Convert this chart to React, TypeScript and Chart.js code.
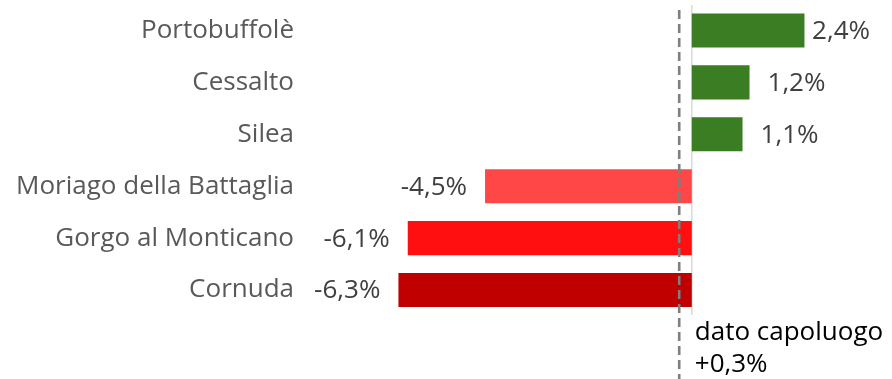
import React, { useEffect, useRef } from "react";
import { Chart, registerables } from "chart.js";

Chart.register(...registerables);

const categories = [
  "Portobuffolè",
  "Cessalto",
  "Silea",
  "Moriago della Battaglia",
  "Gorgo al Monticano",
  "Cornuda",
];
const values = [2.42, 1.24, 1.09, -4.44, -6.1, -6.3];
const valueLabels = ["2,4%", "1,2%", "1,1%", "-4,5%", "-6,1%", "-6,3%"];
const barColors = ["#3A7D22", "#3A7D22", "#3A7D22", "#FF4747", "#FF0F0F", "#C00000"];
const referenceValue = -0.27;
const referenceText = ["dato capoluogo", "+0,3%"];

const FONT = "'Open Sans', sans-serif";

const overlayPlugin = {
  id: "overlay",
  beforeDatasetsDraw(chart: any) {
    const { ctx, scales } = chart;
    const x0 = scales.x.getPixelForValue(0);
    ctx.save();
    ctx.strokeStyle = "#D9D9D9";
    ctx.lineWidth = 1.5;
    ctx.beginPath();
    ctx.moveTo(x0, 5);
    ctx.lineTo(x0, 315);
    ctx.stroke();
    ctx.restore();
  },
  afterDatasetsDraw(chart: any) {
    const { ctx, scales } = chart;
    const meta = chart.getDatasetMeta(0);
    ctx.save();
    ctx.font = `26px ${FONT}`;
    ctx.fillStyle = "#404040";
    ctx.textBaseline = "middle";
    meta.data.forEach((bar: any, i: number) => {
      const txt = valueLabels[i];
      const w = ctx.measureText(txt).width;
      if (values[i] >= 0) {
        let x = bar.x + 18;
        if (x + w > 870) x = Math.max(bar.x + 2, 870 - w);
        ctx.textAlign = "left";
        ctx.fillText(txt, x, bar.y + 1);
      } else {
        ctx.textAlign = "right";
        ctx.fillText(txt, bar.x - 18, bar.y + 1);
      }
    });
    // dashed reference line
    const xr = scales.x.getPixelForValue(referenceValue);
    ctx.strokeStyle = "#7F7F7F";
    ctx.lineWidth = 2.6;
    ctx.setLineDash([9, 5]);
    ctx.beginPath();
    ctx.moveTo(xr, 10);
    ctx.lineTo(xr, 379);
    ctx.stroke();
    ctx.setLineDash([]);
    const x0 = scales.x.getPixelForValue(0);
    ctx.fillStyle = "#000000";
    ctx.textAlign = "left";
    ctx.font = `26px ${FONT}`;
    ctx.fillText(referenceText[0], x0 + 3, 333);
    ctx.fillText(referenceText[1], x0 + 3, 365);
    ctx.restore();
  },
};

export default function App() {
  const ref = useRef<HTMLCanvasElement>(null);
  useEffect(() => {
    document.body.style.margin = "0";
    const chart = new Chart(ref.current!, {
      type: "bar",
      data: {
        labels: categories,
        datasets: [
          {
            data: values,
            backgroundColor: barColors,
            barPercentage: 0.656,
            categoryPercentage: 1,
          },
        ],
      },
      options: {
        indexAxis: "y",
        animation: false,
        responsive: false,
        maintainAspectRatio: false,
        layout: { padding: { top: 4.5, bottom: 63, left: 0, right: 0 } },
        plugins: { legend: { display: false }, tooltip: { enabled: false } },
        scales: {
          x: {
            display: false,
            min: -8.5,
            max: 4.3,
          },
          y: {
            grid: { display: false, drawTicks: false },
            border: { display: false },
            ticks: {
              color: "#595959",
              font: { family: FONT, size: 26 },
              padding: 2,
            },
            afterFit(scale: any) {
              scale.width = 296;
              scale.paddingTop = 0;
              scale.paddingBottom = 0;
            },
          },
        },
      },
      plugins: [overlayPlugin],
    });
    return () => chart.destroy();
  }, []);
  return (
    <div style={{ position: "absolute", left: 0, top: 0, width: 892, height: 379 }}>
      <canvas ref={ref} width={892} height={379} style={{ width: 892, height: 379 }} />
    </div>
  );
}
